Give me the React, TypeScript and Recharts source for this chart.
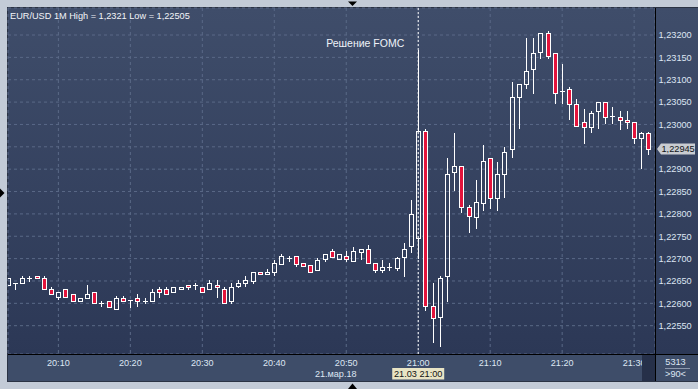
import { ComposedChart, Bar, XAxis, YAxis, CartesianGrid, ReferenceLine } from 'recharts'

const FONT = '"Liberation Sans", Arial, sans-serif'

// EUR/USD 1M, candles from 20:03 to 21:32 (minutes after 20:00)
const startMinute = 3
const opens = [
  1.22641, 1.22645, 1.22645, 1.22656, 1.22661, 1.22656, 1.22631, 1.22615, 1.22631, 1.2262,
  1.22606, 1.22611, 1.22625, 1.226, 1.22606, 1.22587, 1.22611, 1.22607, 1.22611, 1.22606,
  1.22606, 1.22631, 1.22631, 1.22625, 1.22631, 1.22641, 1.22641, 1.22636, 1.22631, 1.22641,
  1.22631, 1.22606, 1.22639, 1.22645, 1.22651, 1.22669, 1.22665, 1.22669, 1.22689, 1.22701,
  1.22705, 1.2269, 1.22685, 1.22675, 1.227, 1.22716, 1.227, 1.22705, 1.22695, 1.22715,
  1.22721, 1.2269, 1.22675, 1.22681, 1.2268, 1.22704, 1.22729, 1.22745, 1.22985, 1.22595,
  1.2257, 1.2266, 1.22894, 1.22908, 1.22815, 1.22794, 1.22825, 1.22924, 1.22835, 1.22889,
  1.22944, 1.23062, 1.2309, 1.23123, 1.23163, 1.23204, 1.23159, 1.23074, 1.23079, 1.23045,
  1.23005, 1.22994, 1.2303, 1.2305, 1.23019, 1.23017, 1.2301, 1.23005, 1.22969, 1.2298,
]
const highs = [
  1.22656, 1.22645, 1.22661, 1.22661, 1.22661, 1.22661, 1.22637, 1.22625, 1.22631, 1.2262,
  1.22611, 1.22641, 1.22625, 1.22606, 1.22606, 1.22616, 1.22616, 1.22607, 1.22621, 1.22611,
  1.22631, 1.22636, 1.22637, 1.22636, 1.22636, 1.22641, 1.22646, 1.22636, 1.22652, 1.22652,
  1.22636, 1.22645, 1.22652, 1.22661, 1.22669, 1.22669, 1.22677, 1.22697, 1.2271, 1.22706,
  1.22705, 1.2269, 1.22685, 1.22701, 1.2271, 1.22722, 1.2271, 1.22716, 1.22725, 1.22721,
  1.2273, 1.2269, 1.22697, 1.2269, 1.22704, 1.22736, 1.22831, 1.23166, 1.2299, 1.22645,
  1.22661, 1.22926, 1.2298, 1.22908, 1.2282, 1.22876, 1.22954, 1.22924, 1.22917, 1.2295,
  1.23096, 1.2309, 1.23193, 1.23193, 1.23204, 1.2321, 1.23159, 1.23135, 1.23084, 1.23058,
  1.23035, 1.23031, 1.2305, 1.2305, 1.23038, 1.2303, 1.2303, 1.23005, 1.22984, 1.22984,
]
const lows = [
  1.22641, 1.22631, 1.22645, 1.22651, 1.22656, 1.22631, 1.2262, 1.2261, 1.22615, 1.22606,
  1.22606, 1.22611, 1.226, 1.22595, 1.22591, 1.22587, 1.22606, 1.22591, 1.22595, 1.226,
  1.22606, 1.22615, 1.2262, 1.22625, 1.22631, 1.22631, 1.22631, 1.22625, 1.22631, 1.22615,
  1.226, 1.226, 1.22636, 1.22639, 1.22645, 1.22665, 1.22665, 1.22664, 1.22689, 1.22695,
  1.22684, 1.22684, 1.22669, 1.22675, 1.22695, 1.22704, 1.227, 1.22695, 1.22695, 1.227,
  1.2269, 1.22669, 1.22669, 1.22675, 1.22675, 1.2266, 1.22715, 1.22701, 1.22585, 1.22514,
  1.22505, 1.22605, 1.22853, 1.22804, 1.2276, 1.22769, 1.22809, 1.22814, 1.22809, 1.22838,
  1.22928, 1.22993, 1.23082, 1.2307, 1.23148, 1.23148, 1.23049, 1.23049, 1.23012, 1.22997,
  1.22959, 1.22984, 1.22993, 1.23004, 1.23004, 1.22989, 1.22993, 1.22959, 1.22903, 1.22935,
]
const closes = [
  1.22656, 1.22645, 1.22656, 1.22656, 1.22656, 1.22631, 1.2262, 1.22625, 1.22615, 1.22606,
  1.22611, 1.22621, 1.226, 1.226, 1.22591, 1.22611, 1.22606, 1.22607, 1.22606, 1.22606,
  1.22625, 1.22625, 1.2262, 1.22636, 1.22636, 1.22636, 1.22641, 1.22625, 1.22645, 1.22636,
  1.226, 1.22636, 1.22645, 1.22652, 1.22669, 1.22665, 1.2267, 1.2269, 1.22705, 1.22701,
  1.22689, 1.22684, 1.22669, 1.22696, 1.2271, 1.22704, 1.2271, 1.227, 1.22716, 1.22721,
  1.2269, 1.22675, 1.22681, 1.22681, 1.22701, 1.22721, 1.22799, 1.22985, 1.22595, 1.22567,
  1.22656, 1.22889, 1.22908, 1.22815, 1.22795, 1.22826, 1.22919, 1.22835, 1.22889, 1.22939,
  1.23062, 1.2309, 1.2312, 1.23159, 1.23204, 1.23154, 1.2307, 1.23074, 1.23045, 1.22997,
  1.22994, 1.23025, 1.2305, 1.23017, 1.23019, 1.2301, 1.23005, 1.22969, 1.2298, 1.22945,
]

const xTickValues = [10, 20, 30, 40, 50, 60, 70, 80, 90]
const xTickLabels = ['20:10', '20:20', '20:30', '20:40', '20:50', '21:00', '21:10', '21:20', '21:30']
const yTicks = [
  1.2255, 1.226, 1.2265, 1.227, 1.2275, 1.228, 1.2285, 1.229, 1.2295, 1.23, 1.2305, 1.231, 1.2315, 1.232,
]

const title = 'EUR/USD 1M High = 1,2321 Low = 1,22505'
const dateLabel = '21.мар.18'
const eventMinute = 60
const eventLabel = 'Решение FOMC'
const crossLabel = '21.03 21:00'
const lastPrice = 1.22945
const barCount = '5313'
const zoomLabel = '>90<'

const data = opens.map((open, i) => ({
  t: startMinute + i,
  open,
  high: highs[i],
  low: lows[i],
  close: closes[i],
  range: [lows[i], highs[i]],
}))

const fmtPrice = (v: number) => v.toFixed(5).replace('.', ',')

function Candle(props: any) {
  const { x, y, width, height, payload } = props
  if (!payload) return null
  const { open, close, high, low } = payload
  const top = Math.min(y, y + height)
  const h = Math.abs(height)
  const span = high - low
  const toY = (p: number) => (span > 0 ? top + ((high - p) / span) * h : top)
  const snap = (v: number) => Math.round(v) + 0.5
  const cx = Math.floor(x + width / 2) + 0.5
  const yHigh = snap(toY(high))
  const yLow = snap(toY(low))
  const yTop = snap(toY(Math.max(open, close)))
  const yBot = snap(toY(Math.min(open, close)))
  const bear = close < open
  return (
    <g>
      <line x1={cx} x2={cx} y1={yHigh - 0.5} y2={yTop} stroke="#ffffff" />
      <line x1={cx} x2={cx} y1={yBot} y2={yLow + 0.5} stroke="#ffffff" />
      {yBot - yTop < 1 ? (
        <line x1={cx - 2.5} x2={cx + 2.5} y1={yTop} y2={yTop} stroke="#ffffff" />
      ) : (
        <rect
          x={cx - 2}
          y={yTop}
          width={4}
          height={yBot - yTop}
          fill={bear ? '#e3143c' : 'none'}
          stroke="#ffffff"
        />
      )}
    </g>
  )
}

function XTick(props: any) {
  const { x, y, payload } = props
  const i = xTickValues.indexOf(payload.value)
  return (
    <g>
      <text x={x} y={y + 12} textAnchor="middle" fill="#dde6f3" fontSize={9.1} fontFamily={FONT}>
        {xTickLabels[i]}
      </text>
      {payload.value === 50 && (
        <text x={x - 10.5} y={y + 23} textAnchor="middle" fill="#dde6f3" fontSize={9.1} fontFamily={FONT}>
          {dateLabel}
        </text>
      )}
    </g>
  )
}

function YTick(props: any) {
  const { x, y, payload } = props
  // the last-price tag covers the label next to it
  if (Math.abs(payload.value - lastPrice) < 0.0002) return <g />
  return (
    <text x={x + 3.5} y={y + 3.3} fill="#dde6f3" fontSize={9.2} fontFamily={FONT}>
      {fmtPrice(payload.value)}
    </text>
  )
}

function EventLabel(props: any) {
  const vb = props.viewBox
  if (!vb) return null
  const x = vb.x
  const bottom = vb.y + vb.height
  return (
    <g>
      <text x={x - 14} y={vb.y + 38.5} textAnchor="end" fill="#eef2f8" fontSize={10.5} fontFamily={FONT}>
        {eventLabel}
      </text>
      <rect x={x - 26} y={bottom + 14} width={52} height={11.5} fill="#e8e4c4" />
      <text x={x} y={bottom + 23.3} textAnchor="middle" fill="#121212" fontSize={9.2} fontFamily={FONT}>
        {crossLabel}
      </text>
    </g>
  )
}

function PriceTag(props: any) {
  const vb = props.viewBox
  if (!vb) return null
  const x0 = vb.x + vb.width
  const cy = vb.y
  return (
    <g>
      <polygon
        points={`${x0 + 2},${cy} ${x0 + 6},${cy - 5.5} ${x0 + 40},${cy - 5.5} ${x0 + 40},${cy + 5.5} ${x0 + 6},${cy + 5.5}`}
        fill="#c9ccd1"
      />
      <text x={x0 + 6.5} y={cy + 3.3} fill="#101318" fontSize={9.2} fontFamily={FONT}>
        {fmtPrice(lastPrice)}
      </text>
    </g>
  )
}

export default function App() {
  return (
    <div
      style={{
        position: 'absolute',
        left: 0,
        top: 0,
        width: 698,
        height: 389,
        background: '#c3cbd7',
        overflow: 'hidden',
      }}
    >
      <div style={{ position: 'absolute', left: 7, top: 7, width: 691, height: 375, background: '#2b3344' }} />
      <div
        style={{
          position: 'absolute',
          left: 8,
          top: 8,
          width: 690,
          height: 346,
          background: 'linear-gradient(#3f4d6a, #2c3856)',
        }}
      />
      <div style={{ position: 'absolute', left: 8, top: 354, width: 690, height: 27, background: '#3e4d69' }} />

      <div style={{ position: 'absolute', left: 0, top: 0 }}>
        <ComposedChart width={698} height={381} data={data} margin={{ top: 8, left: 8, right: 0, bottom: 0 }}>
          <CartesianGrid stroke="#5a6987" strokeDasharray="3 3" />
          <XAxis
            dataKey="t"
            type="number"
            domain={[3, 92.9]}
            allowDataOverflow
            ticks={xTickValues}
            interval={0}
            height={27}
            axisLine={false}
            tickLine={false}
            tickSize={0}
            tickMargin={0}
            tick={<XTick />}
          />
          <YAxis
            orientation="right"
            type="number"
            domain={[1.224867, 1.232604]}
            allowDataOverflow
            ticks={yTicks}
            interval={0}
            width={43}
            axisLine={false}
            tickLine={false}
            tickSize={0}
            tickMargin={0}
            tick={<YTick />}
          />
          <Bar dataKey="range" barSize={6} shape={<Candle />} isAnimationActive={false} />
          <ReferenceLine
            x={eventMinute}
            stroke="#ffffff"
            strokeDasharray="2 2"
            label={<EventLabel />}
          />
          <ReferenceLine y={lastPrice} stroke="#ffffff" strokeOpacity={0} label={<PriceTag />} />
        </ComposedChart>
      </div>

      <svg
        width={698}
        height={389}
        style={{ position: 'absolute', left: 0, top: 0, pointerEvents: 'none' }}
      >
        <rect x={642} y={355} width={13} height={26} fill="#263049" />
        <rect x={8} y={354} width={690} height={1} fill="#000000" />
        <rect x={655} y={8} width={1} height={373} fill="#000000" />
        <text x={10} y={18.5} fill="#f2f4f8" fontSize={9.2} fontFamily={FONT}>
          {title}
        </text>
        <text x={675.5} y={365} textAnchor="middle" fill="#dde6f3" fontSize={9.2} fontFamily={FONT}>
          {barCount}
        </text>
        <rect x={665} y={368} width={25} height={1} fill="#8c98ad" />
        <text x={675.5} y={377.3} textAnchor="middle" fill="#dde6f3" fontSize={9.2} fontFamily={FONT}>
          {zoomLabel}
        </text>
        <polygon points="348,1.5 357,1.5 352.5,6" fill="#000000" />
        <polygon points="348,389 357,389 352.5,383.5" fill="#000000" />
        <polygon points="0,188.5 0,197.5 4.5,193" fill="#000000" />
      </svg>
    </div>
  )
}
